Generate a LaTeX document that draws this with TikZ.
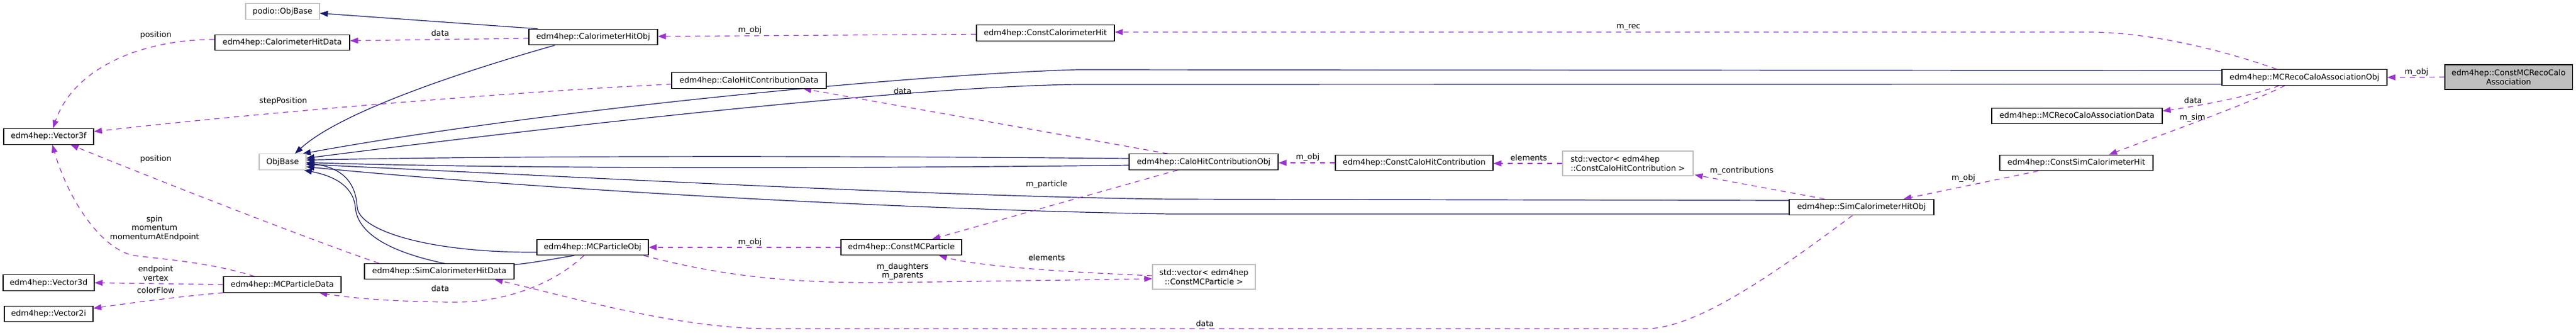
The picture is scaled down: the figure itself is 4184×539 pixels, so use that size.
\documentclass[tikz,border=0pt]{standalone}
\usepackage{fontspec}
\setmainfont{DejaVu Sans}
\usetikzlibrary{arrows.meta,calc,backgrounds}
\definecolor{inhcol}{HTML}{191970}
\definecolor{usecol}{HTML}{9A32CD}
\definecolor{greyb}{HTML}{BFBFBF}
\tikzset{
  cls/.style={draw=black, line width=1.1pt, fill=white, inner sep=2pt, minimum height=25.5pt, font=\fontsize{12.8}{14.5}\selectfont},
  ext/.style={cls, draw=greyb},
  tgt/.style={cls, fill=greyb},
  lbl/.style={font=\fontsize{12.8}{14.5}\selectfont, inner sep=0pt, align=center},
  inh/.style={draw=inhcol, line width=1.2pt, -{Triangle[length=13pt,width=9.5pt]}},
  use/.style={draw=usecol, line width=1.2pt, dash pattern=on 8.5pt off 7.5pt, -{Triangle[length=13pt,width=9.5pt]}},
}
\begin{document}
\begin{tikzpicture}[x=1pt,y=-1pt]
\useasboundingbox (0,0) rectangle (4184,539);
% nodes
\node[ext, minimum width=120pt] (podioObjBase) at (459,18.5) {podio::ObjBase};
\node[cls, minimum width=219pt] (CalHitData) at (458.5,69) {edm4hep::CalorimeterHitData};
\node[cls, minimum width=146pt] (Vector3f) at (79,221.3) {edm4hep::Vector3f};
\node[ext, minimum width=76pt] (ObjBase) at (459,262.5) {ObjBase};
\node[cls, minimum width=148pt] (Vector3d) at (79,458.5) {edm4hep::Vector3d};
\node[cls, minimum width=144pt] (Vector2i) at (79,509) {edm4hep::Vector2i};
\node[cls, minimum width=191pt] (MCPData) at (458.5,461.5) {edm4hep::MCParticleData};
\node[cls, minimum width=243pt] (SimCHData) at (713.5,440) {edm4hep::SimCalorimeterHitData};
\node[cls, minimum width=209pt] (CalHitObj) at (963.5,60) {edm4hep::CalorimeterHitObj};
\node[cls, minimum width=251pt] (CHCData) at (1216.5,130.5) {edm4hep::CaloHitContributionData};
\node[cls, minimum width=224pt] (ConstCalHit) at (1698,53.5) {edm4hep::ConstCalorimeterHit};
\node[cls, minimum width=242pt] (CHCObj) at (1955,262.5) {edm4hep::CaloHitContributionObj};
\node[cls, minimum width=256pt] (ConstCHC) at (2297,264) {edm4hep::ConstCaloHitContribution};
\node[ext, minimum width=212pt, minimum height=40pt, align=left] (VecCHC) at (2644,265) {std::vector< edm4hep\\::ConstCaloHitContribution >};
\node[cls, minimum width=235pt] (SimCHObj) at (3023.5,336) {edm4hep::SimCalorimeterHitObj};
\node[cls, minimum width=249pt] (ConstSimCH) at (3372.5,264) {edm4hep::ConstSimCalorimeterHit};
\node[cls, minimum width=277pt] (MCRCAData) at (3373.5,188) {edm4hep::MCRecoCaloAssociationData};
\node[cls, minimum width=268pt] (MCRCAObj) at (3743,125.5) {edm4hep::MCRecoCaloAssociationObj};
\node[tgt, minimum width=207pt, minimum height=40pt, align=center] (ConstMCRCA) at (4074.5,125) {edm4hep::ConstMCRecoCalo\\Association};
\node[cls, minimum width=181pt] (MCPObj) at (962.5,401) {edm4hep::MCParticleObj};
\node[cls, minimum width=196pt] (ConstMCP) at (1464,401) {edm4hep::ConstMCParticle};
\node[ext, minimum width=167pt, minimum height=40pt, align=center] (VecMCP) at (1955.5,449) {std::vector< edm4hep\\::ConstMCParticle >};
% labels
\node[lbl] (lpos1) at (253,57) {position};
\node[lbl] (ldata1) at (715,54) {data};
\node[lbl] (lmobj1) at (1218,49) {m\_obj};
\node[lbl] (lmrec) at (2645,44) {m\_rec};
\node[lbl] (lstep) at (460,164) {stepPosition};
\node[lbl] (ldata2) at (1466,148) {data};
\node[lbl] (lmobj2) at (2124,255) {m\_obj};
\node[lbl] (lelem1) at (2483,256) {elements};
\node[lbl] (lcontr) at (2829,277) {m\_contributions};
\node[lbl] (lmobj3) at (3189,289) {m\_obj};
\node[lbl] (lmsim) at (3561,191) {m\_sim};
\node[lbl] (ldata3) at (3562,163) {data};
\node[lbl] (lmobj4) at (3925,117) {m\_obj};
\node[lbl] (lmpart) at (1700,299) {m\_particle};
\node[lbl] (lmobj5) at (1218,393) {m\_obj};
\node[lbl] (lelem2) at (1700,418) {elements};
\node[lbl] (ldaught) at (1466,440) {m\_daughters\\m\_parents};
\node[lbl] (ldata4) at (715,468) {data};
\node[lbl] (ldata5) at (1957,525) {data};
\node[lbl] (lpos2) at (253,258) {position};
\node[lbl] (lspin) at (251,370) {spin\\momentum\\momentumAtEndpoint};
\node[lbl] (lend) at (253,443) {endpoint\\vertex};
\node[lbl] (lcolor) at (253,471) {colorFlow};
% edges
\begin{scope}[on background layer]
% inheritance
\draw[inh] ($(CalHitObj.north)+(-90,0)$) -- ($(podioObjBase.east)+(0,3)$);
\draw[inh] ($(CalHitObj.south)+(-62,0)$) .. controls (790,105) and (560,175) .. ($(ObjBase.north)+(20,0)$);
\draw[inh] ($(MCRCAObj.west)+(0,-11)$) -- (1750,113) .. controls (1500,120) and (900,175) .. ($(ObjBase.north east)+(-6,0)$);
\draw[inh] ($(MCRCAObj.west)+(0,11)$) -- (1750,137) .. controls (1480,140) and (900,205) .. ($(ObjBase.east)+(0,-6)$);
\draw[inh] ($(CHCObj.west)+(0,-5.5)$) .. controls (1300,252) and (800,253) .. ($(ObjBase.east)+(0,-3)$);
\draw[inh] ($(CHCObj.west)+(0,5.5)$) .. controls (1300,274) and (800,273) .. ($(ObjBase.east)+(0,1)$);
\draw[inh] ($(SimCHObj.west)+(0,-11)$) -- (1900,323) .. controls (1500,318) and (900,285) .. ($(ObjBase.east)+(0,4)$);
\draw[inh] ($(SimCHObj.west)+(0,11)$) -- (1900,347) .. controls (1450,340) and (850,305) .. ($(ObjBase.east)+(0,8)$);
\draw[inh] ($(MCPObj.west)+(0,8)$) .. controls (700,410) and (582,375) .. (580,335) .. controls (578,300) and (560,272) .. ($(ObjBase.east)+(0,2)$);
\draw[inh] ($(MCPObj.south)+(-30,0)$) .. controls (880,423) and (790,442) .. (721,427) .. controls (650,412) and (580,385) .. (577,335) .. controls (573,300) and (540,285) .. ($(ObjBase.south east)+(-4,0)$);
% usage
\draw[use] ($(CalHitData.west)+(0,-5)$) .. controls (230,64) and (120,110) .. ($(Vector3f.north)+(7,0)$);
\draw[use] ($(CalHitObj.west)+(0,2)$) -- ($(CalHitData.east)+(0,-3)$);
\draw[use] ($(ConstCalHit.west)+(0,2)$) -- ($(CalHitObj.east)+(0,-1)$);
\draw[use] ($(MCRCAObj.north)+(-45,0)$) .. controls (3620,85) and (3500,52) .. (3390,52) -- ($(ConstCalHit.east)+(0,-1.5)$);
\draw[use] ($(CHCData.west)+(0,6)$) .. controls (850,148) and (450,180) .. ($(Vector3f.east)+(0,-8)$);
\draw[use] ($(CHCObj.north)+(-58,0)$) -- ($(CHCData.south)+(88,0)$);
\draw[use] (ConstCHC.west) -- ($(CHCObj.east)+(0,1.5)$);
\draw[use] (VecCHC.west) -- ($(ConstCHC.east)+(0,1)$);
\draw[use] ($(SimCHObj.north)+(-60,0)$) -- ($(VecCHC.south east)+(2,-2)$);
\draw[use] ($(ConstSimCH.south)+(-62,0)$) -- ($(SimCHObj.north)+(68,0)$);
\draw[use] ($(MCRCAObj.south)+(-32,0)$) .. controls (3660,165) and (3520,215) .. ($(ConstSimCH.north)+(53,0)$);
\draw[use] ($(MCRCAObj.south)+(-41,0)$) .. controls (3660,155) and (3570,172) .. ($(MCRCAData.east)+(0,-8)$);
\draw[use] (ConstMCRCA.west) -- (MCRCAObj.east);
\draw[use] ($(CHCObj.south)+(-42,0)$) -- ($(ConstMCP.north)+(50,0)$);
\draw[use] (ConstMCP.west) -- (MCPObj.east);
\draw[use] ($(VecMCP.west)+(0,-2)$) .. controls (1700,440) and (1580,430) .. ($(ConstMCP.south)+(61,0)$);
\draw[use] ($(MCPObj.south)+(83,0)$) .. controls (1180,450) and (1300,460) .. (1450,458) .. controls (1600,456) and (1750,454) .. ($(VecMCP.west)+(0,3)$);
\draw[use] ($(MCPObj.south)+(-14,0)$) .. controls (900,460) and (820,492) .. (730,490) .. controls (650,489) and (580,485) .. ($(MCPData.south)+(60,0)$);
\draw[use] ($(SimCHObj.south)+(-14.5,0)$) .. controls (2900,430) and (2760,533) .. (2674,533) -- (1250,533) .. controls (1100,533) and (920,480) .. ($(SimCHData.south)+(90,0)$);
\draw[use] ($(SimCHData.north west)+(24,0)$) .. controls (520,395) and (250,290) .. ($(Vector3f.south east)+(-38,0)$);
\draw[use] ($(MCPData.north)+(-45,0)$) .. controls (340,425) and (260,420) .. (215,414) .. controls (160,400) and (110,320) .. ($(Vector3f.south)+(6,0)$);
\draw[use] (MCPData.west) -- (Vector3d.east);
\draw[use] (MCPData.south west) .. controls (300,480) and (220,490) .. ($(Vector2i.east)+(0,-9)$);
\end{scope}
\end{tikzpicture}
\end{document}
